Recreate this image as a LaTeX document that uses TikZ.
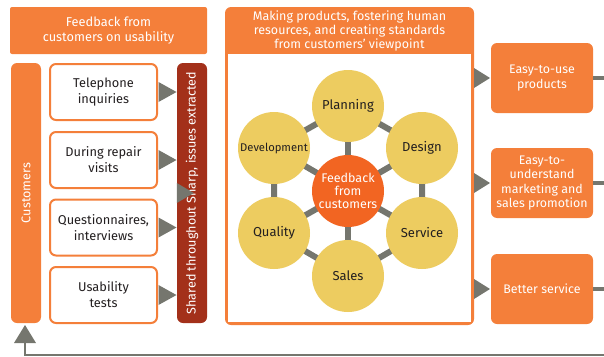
\documentclass[tikz,border=0pt]{standalone}
\usepackage{fontspec}
\setmainfont{Fira Sans}
\usetikzlibrary{calc}
\definecolor{org}{HTML}{F47F3A}
\definecolor{orgdark}{HTML}{F26522}
\definecolor{ylw}{HTML}{EDCC60}
\definecolor{dred}{HTML}{A3301A}
\definecolor{gry}{HTML}{75766E}
\definecolor{txt}{HTML}{231F20}
\begin{document}
\begin{tikzpicture}[x=1pt,y=-1pt,
  banner/.style={fill=org,text=white,rounded corners=2pt,align=center,minimum width=197pt,minimum height=47pt,inner sep=0pt,font=\fontsize{12.8}{15}\selectfont},
  vbar/.style={rounded corners=6pt,text=white,rotate=90,minimum width=260pt,minimum height=30pt,inner sep=0pt,font=\fontsize{12.6}{14}\selectfont},
  inbox/.style={draw=org,line width=2pt,fill=white,rounded corners=6pt,align=center,minimum width=107pt,minimum height=56pt,inner sep=0pt,text=txt,font=\fontsize{12.8}{16}\selectfont},
  outbox/.style={fill=org,rounded corners=6pt,align=center,minimum width=102pt,minimum height=70pt,inner sep=0pt,text=white,font=\fontsize{12.4}{14.5}\selectfont},
  circ/.style={circle,fill=ylw,minimum size=72pt,inner sep=0pt,text=txt,align=center,font=\fontsize{13}{14}\selectfont},
  spoke/.style={draw=gry,line width=6pt},
  stub/.style={draw=gry,line width=4pt},
  fbline/.style={draw=gry,line width=2pt},
  tri/.style={fill=gry}]
\useasboundingbox (0,0) rectangle (604,356);
% banner
\node[banner] (fb) at (108.5,30.5) {Feedback from\\customers on usability};
% customers bar
\node[vbar,fill=org] (cust) at (26,193) {Customers};
% input boxes
\node[inbox] (b1) at (103.5,92) {Telephone\\inquiries};
\node[inbox] (b2) at (103.5,160) {During repair\\visits};
\node[inbox] (b3) at (103.5,227.5) {Questionnaires,\\interviews};
\node[inbox] (b4) at (103.5,295) {Usability\\tests};
% shared bar
\node[vbar,fill=dred] (sh) at (192,193) {Shared throughout Sharp, issues extracted};
\foreach \b in {b1,b2,b3,b4}{
  \fill[tri] ($(\b.east)+(0.5,-10)$) -- ($(\b.east)+(18.5,0)$) -- ($(\b.east)+(0.5,10)$) -- cycle;
}
% big box
\fill[org,rounded corners=6pt] (225,7) -- (474,7) -- (474,325) -- (225,325) -- cycle;
\fill[white] (228,54) rectangle (471,322);
\node[text=white,align=center,font=\fontsize{12.5}{14}\selectfont] (mk) at (349.5,31) {Making products, fostering human\\resources, and creating standards\\from customers’ viewpoint};
\fill[tri] ($(sh.north)+(0,-10)$) -- ($(sh.north)+(17,0)$) -- ($(sh.north)+(0,10)$) -- cycle;
% circles
\coordinate (cP) at (348,106);
\coordinate (cD) at (274,148);
\coordinate (cG) at (422,148);
\coordinate (cQ) at (274,233);
\coordinate (cS) at (422,233);
\coordinate (cA) at (348,276);
\coordinate (cF) at (348,191);
\draw[spoke] (cP) -- (cG) -- (cS) -- (cA) -- (cQ) -- (cD) -- cycle;
\foreach \c in {cP,cD,cG,cQ,cS,cA}{ \draw[spoke] (cF) -- (\c); }
\node[circ] (plan) at (cP) {Planning};
\node[circ,font=\fontsize{11.2}{13}\selectfont] (dev) at (cD) {Development};
\node[circ] (des) at (cG) {Design};
\node[circ] (qua) at (cQ) {Quality};
\node[circ] (ser) at (cS) {Service};
\node[circ] (sal) at (cA) {Sales};
\node[circ,fill=orgdark,text=white,font=\fontsize{12.5}{13}\selectfont] (fc) at (cF) {Feedback\\from\\customers};
% output boxes
\node[outbox] (o1) at (542,78) {Easy-to-use\\products};
\node[outbox] (o2) at (542,183) {Easy-to-\\understand\\marketing and\\sales promotion};
\node[outbox] (o3) at (542,289) {Better service};
\foreach \o in {o1,o2,o3}{
  \path let \p1=(\o.west) in coordinate (t\o) at (474,\y1);
  \fill[tri] ($(t\o)+(0,-10)$) -- ($(t\o)+(16,0)$) -- ($(t\o)+(0,10)$) -- cycle;
  \path let \p1=(\o.east) in coordinate (e\o) at (606,\y1);
  \draw[stub] (\o.east) -- (e\o);
}
% feedback loop
\coordinate (fr) at (606,355);
\coordinate (fl) at (25,355);
\coordinate (fa) at (25,342);
\draw[fbline] (fr) -- (fl) -- (fa);
\fill[tri] (14,343) -- (25,325) -- (36,343) -- cycle;
\end{tikzpicture}
\end{document}
